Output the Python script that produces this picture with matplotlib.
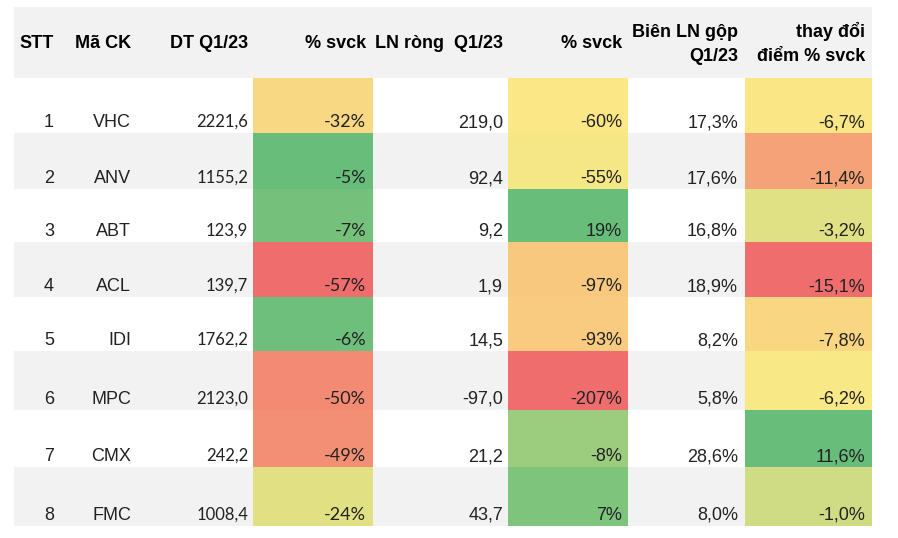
import numpy as np
import matplotlib
matplotlib.use("Agg")
import matplotlib.pyplot as plt
from matplotlib.colors import LinearSegmentedColormap, TwoSlopeNorm
from matplotlib.patches import Rectangle

# data
stt = [1, 2, 3, 4, 5, 6, 7, 8]
tickers = ["VHC", "ANV", "ABT", "ACL", "IDI", "MPC", "CMX", "FMC"]
dt_q1 = [2221.6, 1155.2, 123.9, 139.7, 1762.2, 2123.0, 242.2, 1008.4]
dt_yoy = [-32, -5, -7, -57, -6, -50, -49, -24]
ln_q1 = [219.0, 92.4, 9.2, 1.9, 14.5, -97.0, 21.2, 43.7]
ln_yoy = [-60, -55, 19, -97, -93, -207, -8, 7]
margin = [17.3, 17.6, 16.8, 18.9, 8.2, 5.8, 28.6, 8.0]
margin_chg = [-6.7, -11.4, -3.2, -15.1, -7.8, -6.2, 11.6, -1.0]

headers = ["STT", "Mã CK", "DT Q1/23", "% svck", "LN ròng  Q1/23", "% svck",
           "Biên LN gộp\nQ1/23", "thay đổi\nđiểm % svck"]


def vn(x, dec=1):
    return f"{x:.{dec}f}".replace(".", ",")


# layout (pixels)
W, H = 898, 538
left, right = 14, 872
head_top, head_bot = 7, 78
row_edges = [78, 133, 189, 242, 297, 351, 410, 467, 526]
col_right = [54, 131, 248, 366, 503, 622, 738, 865]
heat_cols = {3: (253, 373), 5: (508, 628), 7: (745, 872)}
gray = "#f2f2f2"
txt = "#222222"

cmap = LinearSegmentedColormap.from_list("excel", ["#f06d6d", "#fbe986", "#68bd7b"])

fig = plt.figure(figsize=(W / 100, H / 100), dpi=100)
ax = fig.add_axes([0, 0, 1, 1])
ax.set_xlim(0, W)
ax.set_ylim(H, 0)
ax.axis("off")

# header band + alternating rows
ax.add_patch(Rectangle((left, head_top), right - left, head_bot - head_top, color=gray, lw=0))
for i in range(len(stt)):
    if i % 2 == 1:
        ax.add_patch(Rectangle((left, row_edges[i]), right - left,
                               row_edges[i + 1] - row_edges[i], color=gray, lw=0))

# heat cells (3-colour scale: min / median / max per column)
for col, vals in [(3, dt_yoy), (5, ln_yoy), (7, margin_chg)]:
    v = np.array(vals, dtype=float)
    norm = TwoSlopeNorm(vmin=v.min(), vcenter=np.median(v), vmax=v.max())
    x0, x1 = heat_cols[col]
    for i, val in enumerate(v):
        ax.add_patch(Rectangle((x0, row_edges[i]), x1 - x0,
                               row_edges[i + 1] - row_edges[i],
                               color=cmap(norm(val)), lw=0))

# header text
hfont = dict(family="Liberation Sans", weight="bold", size=13, color="black")
for c, h in enumerate(headers):
    lines = h.split("\n")
    if len(lines) == 1:
        ax.text(col_right[c], 48, h, ha="right", va="baseline", **hfont)
    else:
        ax.text(col_right[c], 37, lines[0], ha="right", va="baseline", **hfont)
        ax.text(col_right[c], 61, lines[1], ha="right", va="baseline", **hfont)

# body text
arial = dict(family="Liberation Sans", size=13, color=txt)
cal = dict(family="Lato", size=12, color=txt)
cal_pct = dict(family="Lato", size=13, color=txt)
for i in range(len(stt)):
    y = row_edges[i + 1] - 6
    cells = [
        (str(stt[i]), arial),
        (tickers[i], arial),
        (vn(dt_q1[i]), cal),
        (f"{dt_yoy[i]}%", cal_pct),
        (vn(ln_q1[i]), arial),
        (f"{ln_yoy[i]}%", arial),
        (vn(margin[i]) + "%", arial),
        (vn(margin_chg[i]) + "%", arial),
    ]
    for c, (s, f) in enumerate(cells):
        ax.text(col_right[c], y, s, ha="right", va="baseline", **f)

fig.savefig("out.png", dpi=100)
